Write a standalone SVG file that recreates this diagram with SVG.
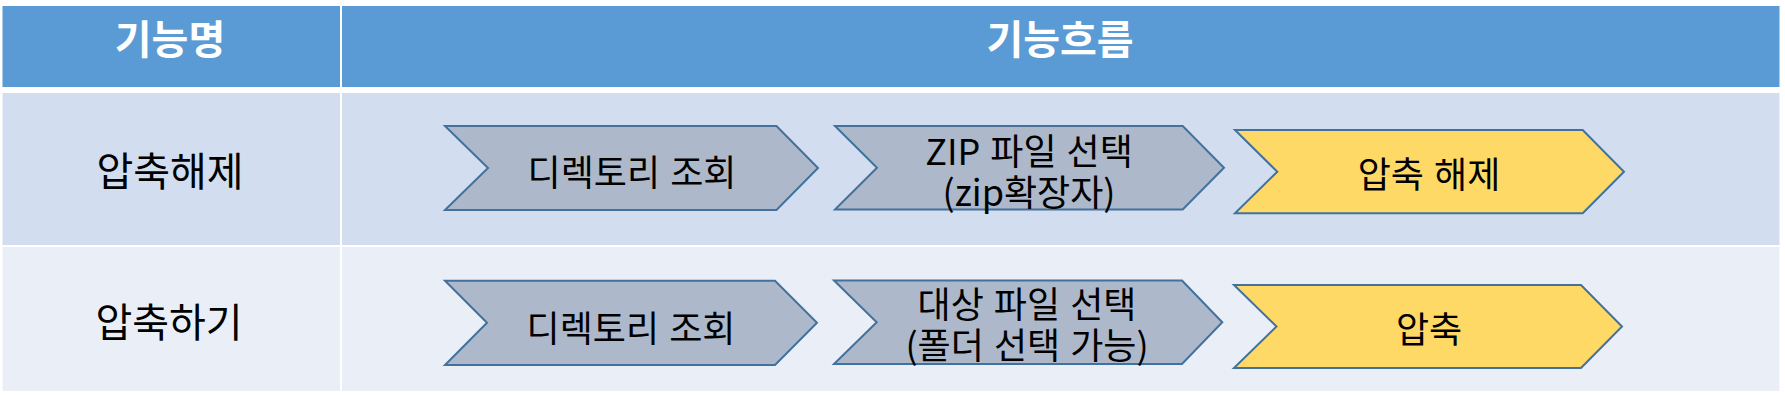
<svg xmlns="http://www.w3.org/2000/svg" width="1785" height="395" viewBox="0 0 1785 395">
<style>
.hdr{fill:#5B9BD5}
.r1{fill:#D2DEEF}
.r2{fill:#EAEFF7}
.ht{font-family:"Noto Sans CJK KR","Noto Sans",sans-serif;font-size:40px;font-weight:bold;fill:#FFFFFF;text-anchor:middle;dominant-baseline:central}
.lt{font-family:"Noto Sans CJK KR","Noto Sans",sans-serif;font-size:40px;fill:#000000;text-anchor:middle;dominant-baseline:central}
.at{font-family:"Noto Sans CJK KR","Noto Sans",sans-serif;font-size:36px;fill:#000000;text-anchor:middle;dominant-baseline:central;word-spacing:2px}
.gray{fill:#ADB9CA;stroke:#41719C;stroke-width:2}
.yel{fill:#FFD966;stroke:#41719C;stroke-width:2}
</style>
<rect x="0" y="0" width="1785" height="395" fill="#FFFFFF"/>
<g id="table">
<rect class="hdr" x="2.5" y="6" width="337.5" height="81"/>
<rect class="hdr" x="342" y="6" width="1437.5" height="81"/>
<rect class="r1" x="2.5" y="93" width="337.5" height="152"/>
<rect class="r1" x="342" y="93" width="1437.5" height="152"/>
<rect class="r2" x="2.5" y="247" width="337.5" height="144"/>
<rect class="r2" x="342" y="247" width="1437.5" height="144"/>
</g>
<g id="header-name"><text class="ht" x="170" y="37">기능명</text></g>
<g id="header-flow"><text class="ht" x="1060" y="37">기능흐름</text></g>
<g id="label-unzip"><text class="lt" x="170" y="169">압축해제</text></g>
<g id="label-zip"><text class="lt" x="169" y="319.5">압축하기</text></g>
<g id="unzip-step1">
<polygon class="gray" points="445,126 776.5,126 818,168 776.5,210 445,210 488,168"/>
<text class="at" x="632" y="170">디렉토리 조회</text>
</g>
<g id="unzip-step2">
<polygon class="gray" points="835,126 1182.7,126 1224,167.7 1182.7,209.5 835,209.5 877,167.7"/>
<text class="at" x="1029" y="149">ZIP 파일 선택</text>
<text class="at" x="1029" y="190">(zip확장자)</text>
</g>
<g id="unzip-step3">
<polygon class="yel" points="1235,130 1582.7,130 1624,171.7 1582.7,213.3 1235,213.3 1277.3,171.7"/>
<text class="at" x="1429" y="172">압축 해제</text>
</g>
<g id="zip-step1">
<polygon class="gray" points="445,280.7 775,280.7 817,322.8 775,365 445,365 487,322.8"/>
<text class="at" x="631" y="326">디렉토리 조회</text>
</g>
<g id="zip-step2">
<polygon class="gray" points="834,280.5 1182,280.5 1222.3,322.2 1182,364 834,364 876.7,322.2"/>
<text class="at" x="1027" y="301.5">대상 파일 선택</text>
<text class="at" x="1027" y="342.5">(폴더 선택 가능)</text>
</g>
<g id="zip-step3">
<polygon class="yel" points="1234,285 1581,285 1622,326.5 1581,368 1234,368 1276.5,326.5"/>
<text class="at" x="1429" y="327">압축</text>
</g>
<g id="connectors"></g>
</svg>
